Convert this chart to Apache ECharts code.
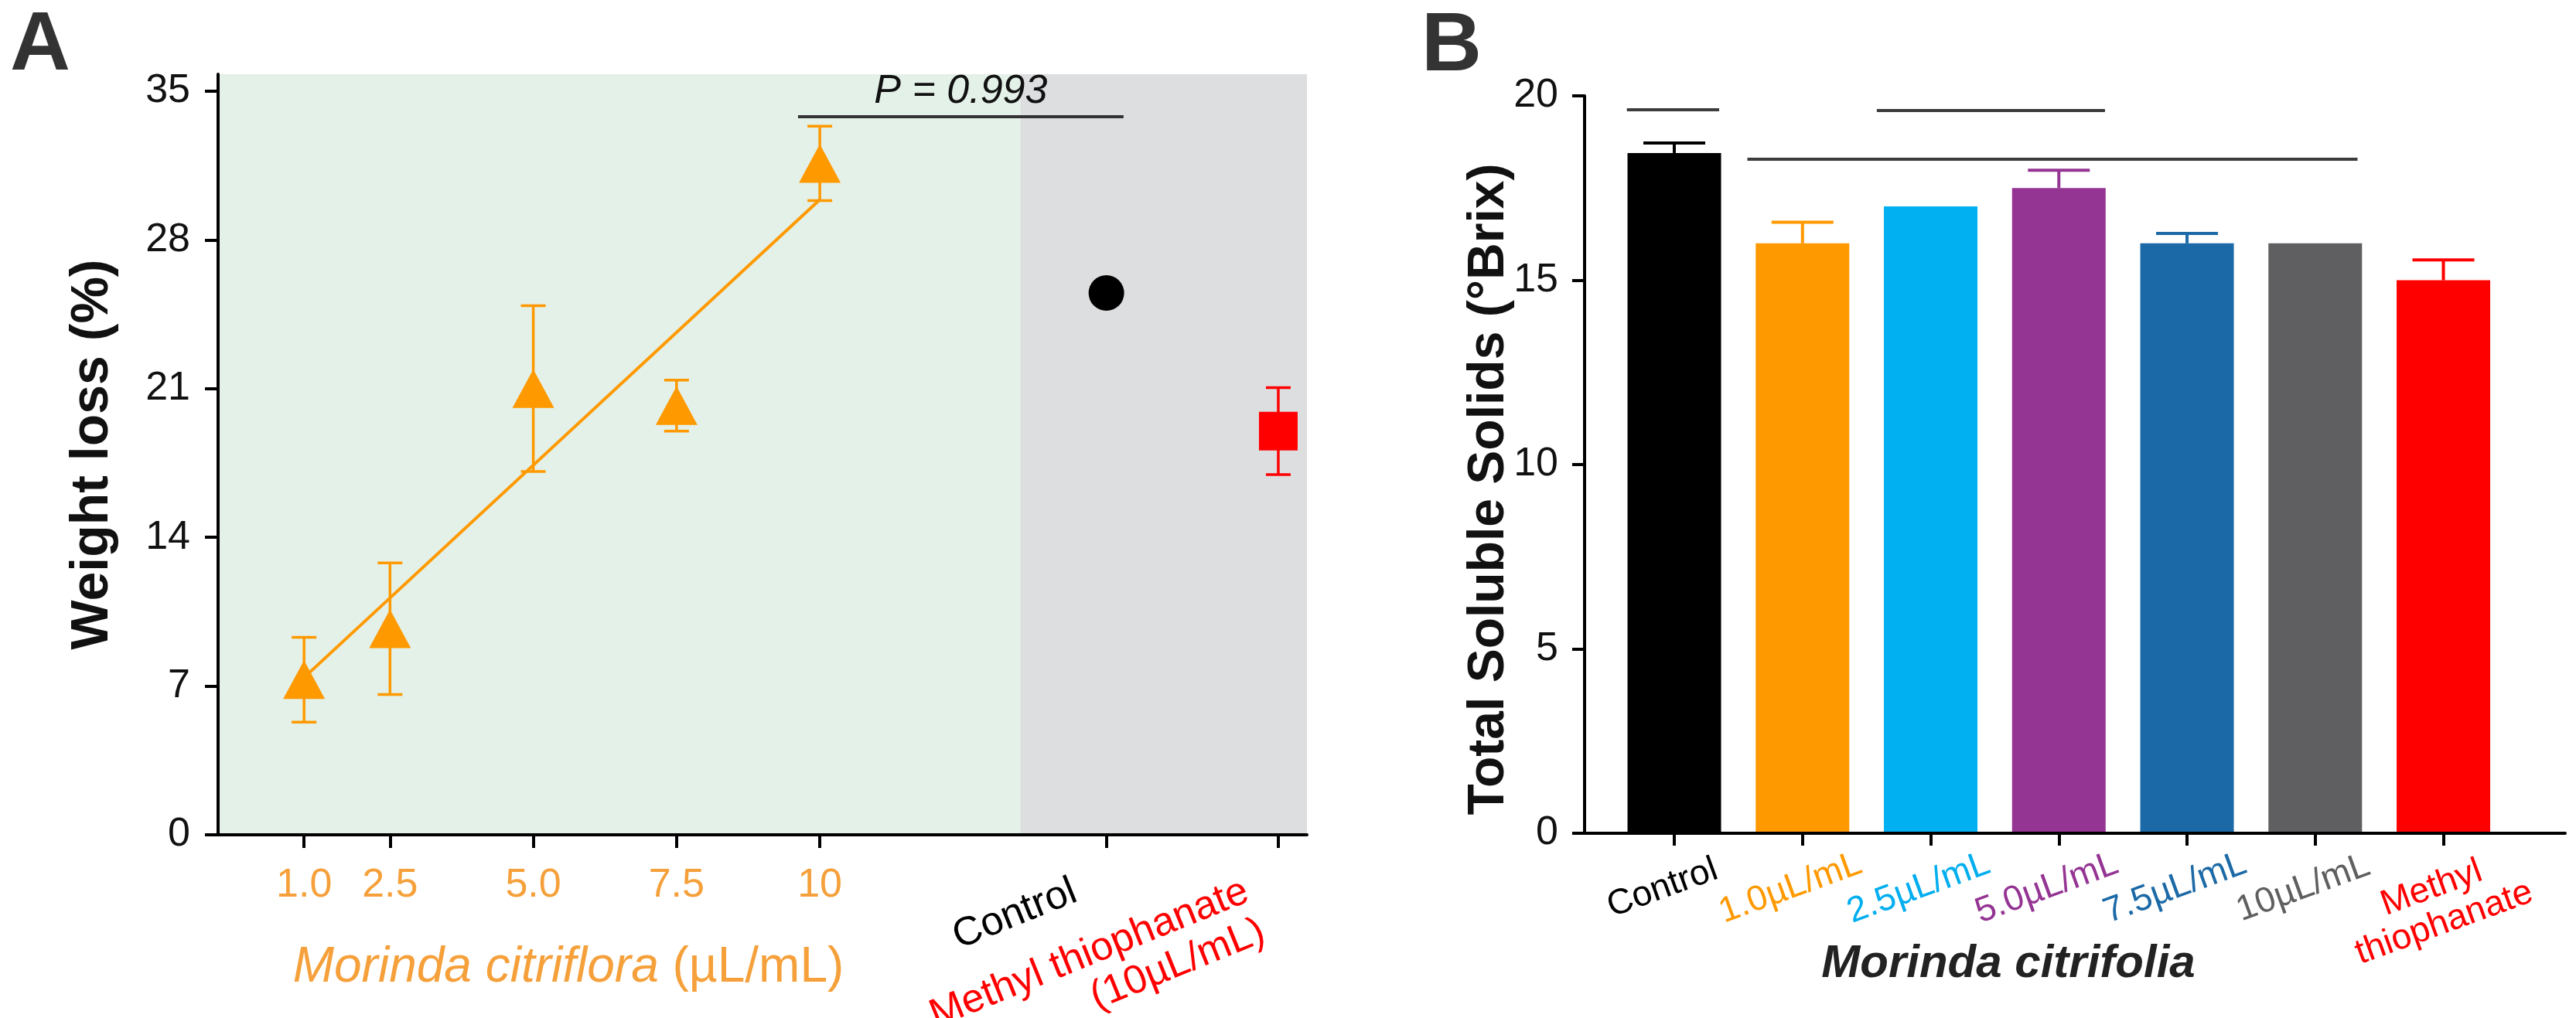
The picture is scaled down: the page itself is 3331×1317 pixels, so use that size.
<!DOCTYPE html>
<html><head><meta charset="utf-8">
<script src="https://cdn.jsdelivr.net/npm/echarts@6/dist/echarts.min.js"></script>
<style>html,body{margin:0;padding:0;background:#fff}#c{width:3331px;height:1317px}</style>
</head><body><div id="c"></div>
<script>
const FONT = '"Liberation Sans", Arial, Helvetica, sans-serif';
const ORANGE = '#ff9900';
const ORANGE_TXT = '#f5a03a';

// ---- Panel A data ----
const concLabels = ['1.0', '2.5', '5.0', '7.5', '10'];
const concValues = [1, 2.5, 5, 7.5, 10];
const weightLossMean = [7.3, 9.7, 21.0, 20.2, 31.6];
const weightLossSD = [2.0, 3.1, 3.9, 1.2, 1.75];
const refGroupLabels = ['Control', 'Methyl thiophanate\n(10µL/mL)'];
const refGroupPos = [15, 18];
const refWeightLossMean = [25.5, 19.0];
const refWeightLossSD = [0, 2.05];
const refGroupColors = ['#000000', '#ff0000'];
const refGroupSymbols = ['circle', 'rect'];
const fitConc = [1, 10];
const fitWeightLoss = [7.4, 29.9];
const weightTicks = [0, 7, 14, 21, 28, 35];
const bracketA = { from: 9.62, to: 15.3, level: 33.8, text: 'P = 0.993' };

// ---- Panel B data ----
const tssCategories = ['Control', '1.0µL/mL', '2.5µL/mL', '5.0µL/mL', '7.5µL/mL', '10µL/mL', 'Methyl\nthiophanate'];
const tssMean = [18.45, 16.0, 17.0, 17.5, 16.0, 16.0, 15.0];
const tssSD = [0.27, 0.57, 0, 0.48, 0.27, 0, 0.55];
const tssColors = ['#000000', '#ff9900', '#00b0f0', '#943493', '#1b69a6', '#5f5f61', '#ff0000'];
const tssLabelColors = ['#000000', '#ff9900', '#00aeef', '#943493', '#1b69a6', '#5f5f61', '#ff0000'];
const tssTicks = [0, 5, 10, 15, 20];
const bracketsB = [
  { from: -0.37, to: 0.35, level: 19.62 },
  { from: 1.58, to: 3.36, level: 19.6 },
  { from: 0.57, to: 5.33, level: 18.28 }
];

const catIdx = tssCategories.map((_, i) => i);

function errBar(color, capHalf, lw, upperOnly) {
  return function (params, api) {
    const x = api.value(0), m = api.value(1), e = api.value(2);
    if (!e) return null;
    const top = api.coord([x, m + e]);
    const bot = upperOnly ? api.coord([x, m]) : api.coord([x, m - e]);
    const st = { stroke: color, lineWidth: lw };
    const ch = [
      { type: 'line', shape: { x1: top[0], y1: top[1], x2: bot[0], y2: bot[1] }, style: st },
      { type: 'line', shape: { x1: top[0] - capHalf, y1: top[1], x2: top[0] + capHalf, y2: top[1] }, style: st }
    ];
    if (!upperOnly) ch.push({ type: 'line', shape: { x1: bot[0] - capHalf, y1: bot[1], x2: bot[0] + capHalf, y2: bot[1] }, style: st });
    return { type: 'group', children: ch };
  };
}

const axisLineStyle = { color: '#000', width: 4 };

const option = {
  animation: false,
  textStyle: { fontFamily: FONT },
  grid: [
    { left: 282, top: 96, width: 1690 - 282, height: 1080 - 96, containLabel: false, outerBoundsMode: 'none' },
    { left: 2049, top: 124, width: 3317 - 2049, height: 1078 - 124, containLabel: false, outerBoundsMode: 'none' }
  ],
  xAxis: [
    {
      gridIndex: 0, type: 'value', position: 'bottom', min: -0.5, max: 18.5, z: 5,
      axisLine: { show: true, onZero: false, lineStyle: axisLineStyle },
      axisTick: { show: true, length: 17, lineStyle: axisLineStyle, customValues: concValues.concat(refGroupPos) },
      axisLabel: {
        customValues: concValues,
        formatter: v => concLabels[concValues.indexOf(Number(v))],
        color: ORANGE_TXT, fontSize: 52, margin: 40, fontFamily: FONT
      },
      splitLine: { show: false }
    },
    {
      gridIndex: 0, type: 'value', position: 'bottom', min: -0.5, max: 18.5, z: 5,
      axisLine: { show: false, onZero: false }, axisTick: { show: false }, splitLine: { show: false },
      axisLabel: {
        customValues: refGroupPos,
        formatter: v => refGroupLabels[refGroupPos.indexOf(Number(v))],
        color: v => refGroupColors[refGroupPos.indexOf(Number(v))],
        rotate: 22, align: 'right', verticalAlign: 'top', margin: 25, padding: [0, 55, 0, 0],
        fontSize: 52, lineHeight: 56, fontFamily: FONT
      }
    },
    {
      gridIndex: 1, type: 'value', position: 'bottom', min: -0.7, max: 6.95, z: 5,
      axisLine: { show: true, onZero: false, lineStyle: axisLineStyle },
      axisTick: { show: true, length: 16, lineStyle: axisLineStyle, customValues: catIdx },
      axisLabel: {
        customValues: catIdx,
        formatter: v => tssCategories[Number(v)],
        color: v => tssLabelColors[Number(v)],
        rotate: 20, align: 'center', verticalAlign: 'top', margin: 40, padding: [0, 50, 0, 0],
        fontSize: 46, lineHeight: 48, fontFamily: FONT
      },
      splitLine: { show: false }
    }
  ],
  yAxis: [
    {
      gridIndex: 0, type: 'value', min: 0, max: 35.8, z: 5,
      axisLine: { show: true, onZero: false, lineStyle: axisLineStyle },
      axisTick: { show: true, length: 17, lineStyle: axisLineStyle, customValues: weightTicks },
      axisLabel: { customValues: weightTicks, fontSize: 52, color: '#111', margin: 36, fontFamily: FONT },
      splitLine: { show: false }
    },
    {
      gridIndex: 1, type: 'value', min: 0, max: 20, interval: 5, z: 5,
      axisLine: { show: true, onZero: false, lineStyle: axisLineStyle },
      axisTick: { show: true, length: 16, lineStyle: axisLineStyle },
      axisLabel: { fontSize: 52, color: '#111', margin: 34, fontFamily: FONT },
      splitLine: { show: false }
    }
  ],
  series: [
    {
      type: 'line', xAxisIndex: 0, yAxisIndex: 0, z: 2,
      data: fitConc.map((x, i) => [x, fitWeightLoss[i]]),
      showSymbol: false, symbol: 'none',
      lineStyle: { color: ORANGE, width: 4 },
      markArea: {
        silent: true,
        data: [
          [{ xAxis: -0.5, itemStyle: { color: '#e4f1e8', opacity: 1 } }, { xAxis: 13.5 }],
          [{ xAxis: 13.5, itemStyle: { color: '#dddee0', opacity: 1 } }, { xAxis: 18.5 }]
        ]
      },
      markLine: {
        silent: true, symbol: 'none',
        lineStyle: { color: '#333', width: 4, type: 'solid' },
        label: {
          show: true, position: 'middle', formatter: bracketA.text, distance: 6,
          color: '#111', fontSize: 52, fontStyle: 'italic', fontFamily: FONT
        },
        data: [[{ coord: [bracketA.from, bracketA.level] }, { coord: [bracketA.to, bracketA.level] }]]
      }
    },
    {
      type: 'custom', xAxisIndex: 0, yAxisIndex: 0, z: 2,
      data: concValues.map((x, i) => [x, weightLossMean[i], weightLossSD[i]]),
      renderItem: errBar(ORANGE, 16, 3.5, false)
    },
    {
      type: 'scatter', xAxisIndex: 0, yAxisIndex: 0, z: 3,
      data: concValues.map((x, i) => [x, weightLossMean[i]]),
      symbol: 'triangle', symbolSize: [54, 50],
      itemStyle: { color: ORANGE, opacity: 1 }
    },
    {
      type: 'custom', xAxisIndex: 0, yAxisIndex: 0, z: 2,
      data: refGroupPos.map((x, i) => [x, refWeightLossMean[i], refWeightLossSD[i]]),
      renderItem: (p, api) => errBar(refGroupColors[p.dataIndex], 16, 3.5, false)(p, api)
    },
    {
      type: 'scatter', xAxisIndex: 0, yAxisIndex: 0, z: 3,
      data: refGroupPos.map((x, i) => ({
        value: [x, refWeightLossMean[i]],
        symbol: refGroupSymbols[i],
        symbolSize: i === 0 ? 46 : 50,
        itemStyle: { color: refGroupColors[i], opacity: 1 }
      }))
    },
    {
      type: 'bar', xAxisIndex: 2, yAxisIndex: 1, z: 2,
      barWidth: 121,
      data: tssMean.map((v, i) => ({ value: [i, v], itemStyle: { color: tssColors[i] } })),
      markLine: {
        silent: true, symbol: 'none',
        lineStyle: { color: '#3c3c3c', width: 4, type: 'solid' },
        label: { show: false },
        data: bracketsB.map(b => [{ coord: [b.from, b.level] }, { coord: [b.to, b.level] }])
      }
    },
    {
      type: 'custom', xAxisIndex: 2, yAxisIndex: 1, z: 3,
      data: tssMean.map((v, i) => [i, v, tssSD[i]]),
      renderItem: (p, api) => errBar(tssColors[p.dataIndex], 40, 4, true)(p, api)
    }
  ],
  graphic: [
    { type: 'text', x: 13, y: 60, style: { text: 'A', font: 'bold 108px ' + FONT, fill: '#333', align: 'left', textAlign: 'left', verticalAlign: 'middle', textVerticalAlign: 'middle' } },
    { type: 'text', x: 1838, y: 61, style: { text: 'B', font: 'bold 108px ' + FONT, fill: '#333', align: 'left', textAlign: 'left', verticalAlign: 'middle', textVerticalAlign: 'middle' } },
    { type: 'text', x: 308, y: 141, style: { text: 'y= 5.01+2,51x', font: 'italic 46px ' + FONT, fill: ORANGE_TXT, align: 'left', textAlign: 'left', verticalAlign: 'middle', textVerticalAlign: 'middle' } },
    { type: 'text', x: 306, y: 205, style: { text: 'R²= 0.92; df=33,69; P=0.010', font: 'italic 46px ' + FONT, fill: ORANGE_TXT, align: 'left', textAlign: 'left', verticalAlign: 'middle', textVerticalAlign: 'middle' } },
    { type: 'text', x: 120, y: 588, rotation: Math.PI / 2, style: { text: 'Weight loss (%)', font: 'bold 68px ' + FONT, fill: '#111', align: 'center', textAlign: 'center', verticalAlign: 'middle', textVerticalAlign: 'middle' } },
    { type: 'text', x: 1926, y: 633, rotation: Math.PI / 2, style: { text: 'Total Soluble Solids (°Brix)', font: 'bold 66px ' + FONT, fill: '#111', align: 'center', textAlign: 'center', verticalAlign: 'middle', textVerticalAlign: 'middle' } },
    {
      type: 'text', x: 735, y: 1252,
      style: {
        text: '{i|Morinda citriflora} {n|(µL/mL)}',
        fill: ORANGE_TXT, fontSize: 64, fontFamily: FONT,
        rich: {
          i: { fontStyle: 'italic', fontSize: 64, fontFamily: FONT, fill: ORANGE_TXT, color: ORANGE_TXT },
          n: { fontSize: 64, fontFamily: FONT, fill: ORANGE_TXT, color: ORANGE_TXT }
        },
        align: 'center', textAlign: 'center', verticalAlign: 'middle', textVerticalAlign: 'middle'
      }
    },
    { type: 'text', x: 2597, y: 1247, style: { text: 'Morinda citrifolia', font: 'italic bold 60px ' + FONT, fill: '#222', align: 'center', textAlign: 'center', verticalAlign: 'middle', textVerticalAlign: 'middle' } }
  ]
};

const chart = echarts.init(document.getElementById('c'), null, { renderer: 'canvas' });
chart.setOption(option);
</script>
</body></html>
